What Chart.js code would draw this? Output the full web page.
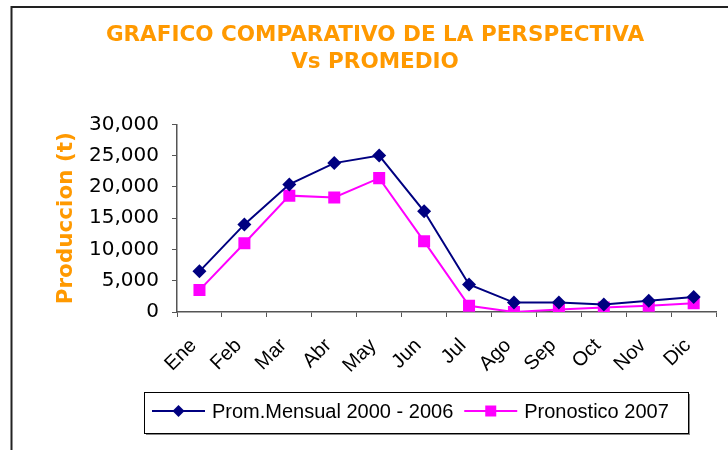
<!DOCTYPE html>
<html>
<head>
<meta charset="utf-8">
<script src="https://cdn.jsdelivr.net/npm/chart.js@4.4.1/dist/chart.umd.min.js"></script>
<style>
  html,body{margin:0;padding:0;background:#fff}
  canvas{display:block}
</style>
</head>
<body>
<canvas id="chart" width="728" height="450"></canvas>
<script>
const months = ['Ene','Feb','Mar','Abr','May','Jun','Jul','Ago','Sep','Oct','Nov','Dic'];
const promLabel = 'Prom.Mensual 2000 - 2006';
const promValues = [6500,14000,20400,23800,25000,16100,4400,1500,1500,1200,1800,2400];
const pronLabel = 'Pronostico 2007';
const pronValues = [3500,11000,18600,18300,21400,11300,1000,0,400,700,1000,1400];
const titleLines = ['GRAFICO COMPARATIVO DE LA PERSPECTIVA','Vs PROMEDIO'];
const yTitle = 'Produccion (t)';

const ORANGE = '#FF9900';
const NAVY = '#000080';
const MAGENTA = '#FF00FF';
const AXIS = '#555555';

// outer frame of the original sheet (left + top edges visible)
const framePlugin = {
  id:'frame',
  beforeDraw(chart){
    const c = chart.ctx;
    c.save();
    c.fillStyle = '#fff';
    c.fillRect(0,0,chart.width,chart.height);
    c.strokeStyle = '#222';
    c.lineWidth = 2;
    c.beginPath();
    c.moveTo(11.5, chart.height + 5);
    c.lineTo(11.5, 7);
    c.lineTo(chart.width + 5, 7);
    c.stroke();
    c.restore();
  }
};

function marker(c, style, x, y, r, color){
  c.fillStyle = color;
  c.beginPath();
  if(style==='rectRot'){
    c.moveTo(x, y-r); c.lineTo(x+r, y); c.lineTo(x, y+r); c.lineTo(x-r, y);
  } else {
    c.rect(x-r, y-r, 2*r, 2*r);
  }
  c.closePath();
  c.fill();
}

// boxed legend below the axis, line + marker like the spreadsheet legend
const boxLegend = {
  id:'boxLegend',
  afterDraw(chart){
    const c = chart.ctx;
    const bx = 144, by = 392, bw = 544, bh = 41;
    c.save();
    c.fillStyle = '#888';
    c.fillRect(bx+2, by+2, bw, bh);
    c.fillStyle = '#fff';
    c.fillRect(bx, by, bw, bh);
    c.strokeStyle = '#000';
    c.lineWidth = 1;
    c.strokeRect(bx+0.5, by+0.5, bw, bh);
    c.font = '20px "Liberation Sans", Arial, sans-serif';
    c.textBaseline = 'middle';
    const cy = by + 19;
    let x = 152;
    chart.data.datasets.forEach(ds => {
      c.strokeStyle = ds.borderColor;
      c.lineWidth = 2;
      c.beginPath(); c.moveTo(x, cy); c.lineTo(x+53, cy); c.stroke();
      marker(c, ds.pointStyle, x+26.5, cy, ds.pointStyle==='rectRot' ? 6 : 5.5, ds.borderColor);
      c.fillStyle = '#000';
      c.fillText(ds.label, x+60, cy+1);
      x += 60 + c.measureText(ds.label).width + 11;
    });
    c.restore();
  }
};

new Chart(document.getElementById('chart').getContext('2d'), {
  type:'line',
  data:{
    labels: months,
    datasets:[
      {label: promLabel, data: promValues, borderColor: NAVY, backgroundColor: NAVY,
       borderWidth: 2, pointStyle:'rectRot', pointRadius: 7, pointBorderWidth: 0, tension: 0},
      {label: pronLabel, data: pronValues, borderColor: MAGENTA, backgroundColor: MAGENTA,
       borderWidth: 2, pointStyle:'rect', pointRadius: 8.5, pointBorderWidth: 0, tension: 0}
    ]
  },
  options:{
    responsive:false,
    animation:false,
    layout:{padding:{left:30,right:8,top:9,bottom:0}},
    plugins:{
      legend:{display:false},
      tooltip:{enabled:false},
      title:{
        display:true,
        text: titleLines,
        color: ORANGE,
        font:{family:'"DejaVu Sans", Verdana, sans-serif', size:21.5, weight:'bold', lineHeight:1.24},
        padding:{top:13,bottom:49}
      }
    },
    scales:{
      x:{
        offset:true,
        grid:{display:true, offset:true, drawOnChartArea:false, tickLength:5, color:AXIS},
        border:{color:AXIS, width:1.5},
        ticks:{minRotation:45, maxRotation:45, padding:17, labelOffset:-6, color:'#000',
               font:{family:'"Liberation Sans", Arial, sans-serif', size:20}},
        afterFit(s){ s.height = 138; }
      },
      y:{
        min:0, max:30000,
        ticks:{stepSize:5000, padding:13, color:'#000',
               font:{family:'"DejaVu Sans", Verdana, sans-serif', size:20},
               callback:v => v.toLocaleString('en-US')},
        grid:{display:true, drawOnChartArea:false, tickLength:5, color:AXIS},
        border:{color:AXIS, width:1.5},
        title:{display:true, text:yTitle, color:ORANGE, padding:{top:24,bottom:4},
               font:{family:'"DejaVu Sans", Verdana, sans-serif', size:21.5, weight:'bold'}},
        afterFit(s){ s.width = 147; }
      }
    }
  },
  plugins:[framePlugin, boxLegend]
});
</script>
</body>
</html>
